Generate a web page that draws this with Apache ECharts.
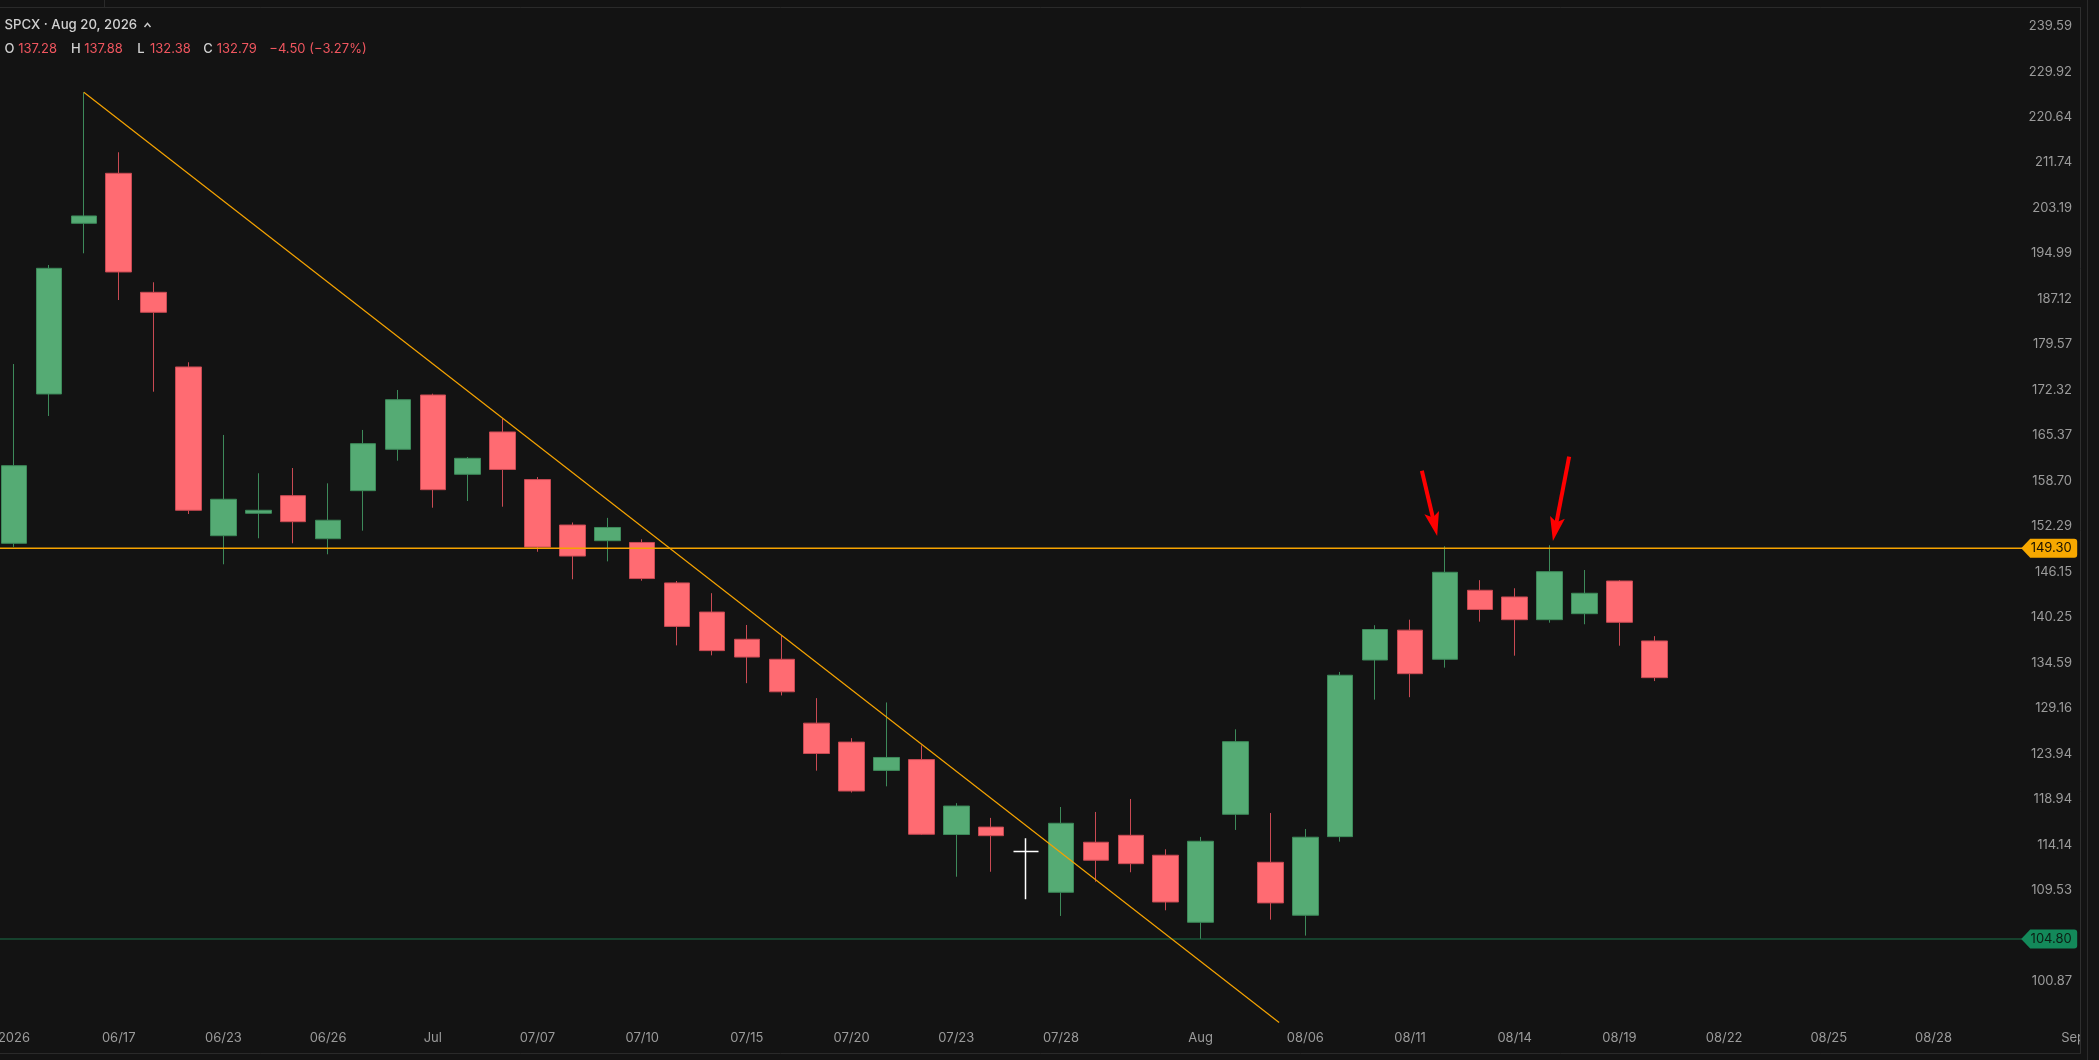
<!DOCTYPE html>
<html>
<head>
<meta charset="utf-8">
<script src="https://cdn.jsdelivr.net/npm/echarts@6/dist/echarts.min.js"></script>
<style>
html,body{margin:0;padding:0;background:#131313;}
#c{width:2099px;height:1060px;}
</style>
</head>
<body>
<div id="c"></div>
<script>
// ---------- data ----------
const categories = ['06/12','06/15','06/16','06/17','06/18','06/22','06/23','06/24','06/25','06/26',
  '06/29','06/30','07/01','07/02','07/06','07/07','07/08','07/09','07/10','07/13',
  '07/14','07/15','07/16','07/17','07/20','07/21','07/22','07/23','07/24','07/27',
  '07/28','07/29','07/30','07/31','08/03','08/04','08/05','08/06','08/07','08/10',
  '08/11','08/12','08/13','08/14','08/17','08/18','08/19','08/20','08/21','08/22',
  '08/23','08/24','08/25','08/26','08/27','08/28','08/29','08/30','08/31','09/01'];

const opens  = [149.98,171.70,200.41,209.69,188.26,175.95,151.01,154.11,156.59,150.60,
  157.30,163.31,171.54,159.65,165.89,158.89,152.48,150.33,150.09,144.69,
  140.92,137.49,135.02,127.43,125.26,122.09,123.29,115.20,115.98,113.45,
  109.33,114.40,115.12,113.06,106.40,117.33,112.34,107.08,114.98,134.93,
  138.63,135.02,143.73,142.86,139.95,140.71,144.94,137.28];
const closes = [160.90,192.40,201.74,191.76,184.88,154.53,156.08,154.53,152.94,153.14,
  164.14,170.81,157.44,161.98,160.35,149.46,148.25,152.14,145.26,139.10,
  136.08,135.29,131.10,123.97,119.83,123.53,115.23,118.21,115.08,113.45,
  116.38,112.55,112.20,108.37,114.50,125.31,108.28,114.92,133.08,138.71,
  133.27,146.09,141.25,139.95,146.17,143.34,139.62,132.79];
const lows   = [149.48,168.31,195.03,186.95,172.05,154.01,147.15,150.66,149.98,148.49,
  151.70,161.63,154.89,155.83,155.03,148.83,145.17,147.54,144.98,136.73,
  135.50,132.13,130.67,122.06,119.67,120.34,115.15,110.88,111.38,108.64,
  107.01,110.38,111.33,107.56,104.80,115.68,106.65,105.12,114.46,130.17,
  130.46,134.00,139.70,135.46,139.57,139.37,136.69,132.38];
const highs  = [176.42,192.98,225.65,213.72,189.98,176.70,165.44,159.80,160.56,158.35,
  166.19,172.32,171.74,162.17,167.88,159.25,152.83,153.47,150.52,144.94,
  143.35,139.28,137.94,130.35,125.71,129.84,124.89,118.52,116.95,114.81,
  118.11,117.58,118.97,113.67,114.95,126.72,117.47,115.78,133.48,139.25,
  139.95,149.57,145.05,143.99,149.71,146.39,145.05,137.88];
const dojiIndex = [29];

const yTickValues = [100.87,109.53,114.14,118.94,123.94,129.16,134.59,140.25,146.15,152.29,
  158.70,165.37,172.32,179.57,187.12,194.99,203.19,211.74,220.64,229.92,239.59];
const xTickDates  = ['06/12','06/17','06/23','06/26','07/01','07/07','07/10','07/15','07/20','07/23',
  '07/28','08/03','08/06','08/11','08/14','08/19','08/22','08/25','08/28','09/01'];
const xTickLabels = ['2026','06/17','06/23','06/26','Jul','07/07','07/10','07/15','07/20','07/23',
  '07/28','Aug','08/06','08/11','08/14','08/19','08/22','08/25','08/28','Sep'];

const resistance = 149.30;
const support = 104.80;
const trendStart = [2, 225.65];
const trendEnd = [36.25, 97.17];
const arrow1 = [[40.34, 160.17], [40.70, 152.58]];
const arrow2 = [[44.56, 162.22], [44.16, 151.91]];
const yMinPrice = 97.12, yMaxPrice = 243.78;

const header = {title: 'SPCX · Aug 20, 2026', o: '137.28', h: '137.88', l: '132.38', c: '132.79', chg: '\u22124.50 (\u22123.27%)'};

// ---------- chart ----------
const L = Math.log;
const FONT = 'Inter';
const GREEN = '#55ab74', RED = '#ff6b72';
const ORANGE = '#f5a300', SUPPORT_C = '#1b7048';
const tagPath = 'path://M0,9.5 L9,0 L53,0 Q56,0 56,3 L56,16 Q56,19 53,19 L9,19 Z';
const lineEndX = 57.6, tagX = 58.315;

const candleData = opens.map((o, i) => {
  const v = [L(o), L(closes[i]), L(lows[i]), L(highs[i])];
  if (dojiIndex.includes(i)) {
    return {value: v, itemStyle: {color: '#ffffff', color0: '#ffffff', borderColor: '#ffffff', borderColor0: '#ffffff', borderWidth: 1.5}};
  }
  return v;
});

function arrowLine(a) {
  return [
    {coord: [a[0][0], L(a[0][1])], symbol: 'none'},
    {coord: [a[1][0], L(a[1][1])], symbol: 'path://M10,0 L20,24 L10,19 L0,24 Z', symbolSize: [15, 24]}
  ];
}

const chart = echarts.init(document.getElementById('c'), null, {renderer: 'canvas'});
const grey = '#9b9b9b';

const hx = [4.5, 18.3, 71, 84.3, 137.3, 150, 203.3, 216.7, 269.3];
const row2 = [['O', '#d1d1d1'], [header.o, '#f0565f'], ['H', '#d1d1d1'], [header.h, '#f0565f'],
  ['L', '#d1d1d1'], [header.l, '#f0565f'], ['C', '#d1d1d1'], [header.c, '#f0565f'], [header.chg, '#f0565f']];

const graphics = [
  {type: 'rect', z: 100, shape: {x: 2081, y: 0, width: 18, height: 1060}, style: {fill: '#131313'}},
  {type: 'line', z: 101, shape: {x1: 0, y1: 7.5, x2: 2081, y2: 7.5}, style: {stroke: '#2a2a2a', lineWidth: 1}},
  {type: 'line', z: 101, shape: {x1: 104.5, y1: 0, x2: 104.5, y2: 7}, style: {stroke: '#2a2a2a', lineWidth: 1}},
  {type: 'line', z: 101, shape: {x1: 2080.5, y1: 7, x2: 2080.5, y2: 1053.5}, style: {stroke: '#2e2e2e', lineWidth: 1}},
  {type: 'line', z: 101, shape: {x1: 0, y1: 1053.5, x2: 2081, y2: 1053.5}, style: {stroke: '#2a2a2a', lineWidth: 1}},
  {type: 'line', z: 101, shape: {x1: 2087.5, y1: 0, x2: 2087.5, y2: 1060}, style: {stroke: '#2a2a2a', lineWidth: 1}},
  {type: 'text', z: 101, style: {text: header.title, x: 4.5, y: 25, fill: '#d1d1d1', fontFamily: FONT, fontSize: 13.2, fontWeight: 500, textAlign: 'left', textVerticalAlign: 'middle'}},
  {type: 'polyline', z: 101, shape: {points: [[144.5, 27], [147.5, 23.3], [150.5, 27]]}, style: {stroke: '#cfcfcf', lineWidth: 1.4, fill: null}}
];
row2.forEach((r, i) => {
  graphics.push({type: 'text', z: 101, style: {text: r[0], x: hx[i], y: 49.5, fill: r[1], fontFamily: FONT, fontSize: 13, fontWeight: i % 2 === 0 && i < 8 ? 500 : 400, textAlign: 'left', textVerticalAlign: 'middle'}});
});

chart.setOption({
  backgroundColor: '#131313',
  animation: false,
  grid: {left: -3.45, top: 7, width: 2094, height: 1016, containLabel: false, outerBoundsMode: 'none'},
  xAxis: [
    {
      type: 'category', data: categories, boundaryGap: true,
      axisLine: {show: false}, axisTick: {show: false}, splitLine: {show: false},
      axisLabel: {
        interval: (i, v) => xTickDates.indexOf(v) >= 0,
        formatter: v => xTickLabels[xTickDates.indexOf(v)],
        color: grey, fontFamily: FONT, fontSize: 13, margin: 9,
        showMinLabel: true, showMaxLabel: true, hideOverlap: false
      }
    },
    {type: 'value', min: -0.5, max: 59.5, show: false}
  ],
  yAxis: {
    type: 'value', position: 'right', min: L(yMinPrice), max: L(yMaxPrice),
    axisLine: {show: false}, axisTick: {show: false}, splitLine: {show: false},
    axisLabel: {
      inside: true, margin: 18.5, color: grey, fontFamily: FONT, fontSize: 13,
      customValues: yTickValues.map(L),
      formatter: v => Math.exp(v).toFixed(2)
    }
  },
  series: [
    {
      type: 'candlestick', xAxisIndex: 0, yAxisIndex: 0, barWidth: 26,
      data: candleData,
      itemStyle: {color: GREEN, color0: RED, borderColor: '#3d8a5a', borderColor0: '#c94a53', borderWidth: 1},
      emphasis: {disabled: true}, silent: true
    },
    {
      type: 'line', xAxisIndex: 1, yAxisIndex: 0, symbol: 'none', silent: true,
      data: [[-0.5, L(support)], [lineEndX, L(support)]],
      lineStyle: {color: SUPPORT_C, width: 1.2}, z: 3,
      markPoint: {silent: true, data: [{coord: [tagX, L(support)], symbol: tagPath, symbolSize: [56, 19],
        itemStyle: {color: '#13895a'}, label: {show: true, formatter: support.toFixed(2), color: '#0b1f14', fontFamily: FONT, fontSize: 13, offset: [2, 0]}}]}
    },
    {
      type: 'line', xAxisIndex: 1, yAxisIndex: 0, symbol: 'none', silent: true,
      data: [[-0.5, L(resistance)], [lineEndX, L(resistance)]],
      lineStyle: {color: ORANGE, width: 1.5}, z: 3,
      markPoint: {silent: true, data: [{coord: [tagX, L(resistance)], symbol: tagPath, symbolSize: [56, 19],
        itemStyle: {color: '#f7a800'}, label: {show: true, formatter: resistance.toFixed(2), color: '#1a1200', fontFamily: FONT, fontSize: 13, offset: [2, 0]}}]}
    },
    {
      type: 'line', xAxisIndex: 1, yAxisIndex: 0, symbol: 'none', silent: true, clip: true,
      data: [[trendStart[0], L(trendStart[1])], [trendEnd[0], L(trendEnd[1])]],
      lineStyle: {color: ORANGE, width: 1.2}, z: 3,
      markLine: {
        silent: true, animation: false, symbol: ['none', 'arrow'],
        label: {show: false},
        lineStyle: {color: '#ff0000', width: 4, type: 'solid'},
        emphasis: {disabled: true},
        data: [arrowLine(arrow1), arrowLine(arrow2)]
      }
    }
  ],
  graphic: graphics
});
</script>
</body>
</html>
